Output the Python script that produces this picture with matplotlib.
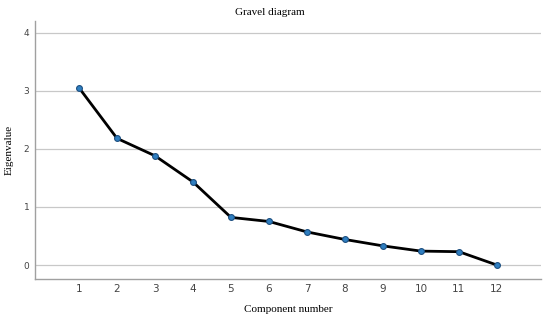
import numpy as np
import matplotlib.pyplot as plt

components  = [1, 2, 3, 4, 5, 6, 7, 8, 9, 10, 11, 12]
eigenvalues = [3.05, 2.18, 1.88, 1.43, 0.82, 0.75, 0.57, 0.44, 0.33, 0.24, 0.23, 0.0]
y_ticks     = [0, 1, 2, 3, 4]


def plot_scree():
    fig = plt.figure(figsize = (5.5, 3.15), dpi = 100)
    ax  = fig.add_axes([0.0636, 0.1143, 0.92, 0.819])

    ax.plot(components, eigenvalues, color = 'black', lw = 2, zorder = 3)
    ax.plot(components, eigenvalues, 'o', ms = 4.2, mfc = '#2f7fc1', mec = '#1d4f80',
            mew = 0.8, zorder = 4)

    ax.set_xlim(-0.16, 13.16)
    ax.set_ylim(-0.24, 4.2)
    ax.set_xticks(components)
    ax.set_yticks(y_ticks)
    ax.yaxis.grid(True, color = '#c8c8c8', lw = 0.9)
    ax.set_axisbelow(True)

    for side in ['top', 'right']:
        ax.spines[side].set_visible(False)
    for side in ['left', 'bottom']:
        ax.spines[side].set_color('#a0a0a0')
        ax.spines[side].set_linewidth(1.0)

    ax.tick_params(length = 0, labelsize = 7.5, colors = '#444444', pad = 3.5)
    ax.tick_params(axis = 'y', labelsize = 6.5, pad = 4)

    serif = 'Liberation Serif'
    # the title sits a bit left of the axes centre in the original
    ax.set_title('Gravel diagram', family = serif, fontsize = 8, pad = 4, x = 0.465)
    ax.set_xlabel('Component number', family = serif, fontsize = 8, labelpad = 8)
    ax.set_ylabel('Eigenvalue', family = serif, fontsize = 8, labelpad = 7)

    fig.savefig('out.png', dpi = 100)
    plt.close(fig)


if __name__ == "__main__":
    plot_scree()
